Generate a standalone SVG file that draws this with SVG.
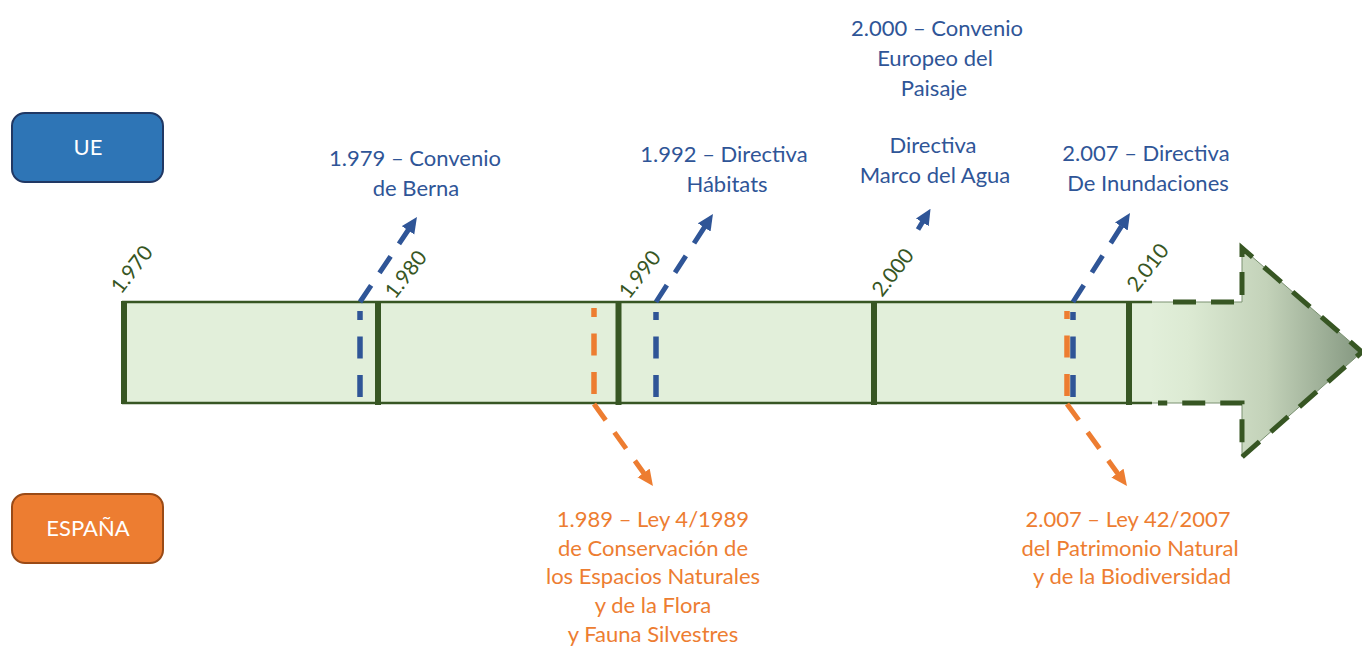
<svg xmlns="http://www.w3.org/2000/svg" width="1362" height="646" viewBox="0 0 1362 646">
  <style>
    .ev { font-family: Lato, "Liberation Sans", sans-serif; font-size: 22px; fill: #2F5597; text-anchor: middle; }
    .es { font-family: Lato, "Liberation Sans", sans-serif; font-size: 22px; fill: #ED7D31; text-anchor: middle; }
    .yr { font-family: Lato, "Liberation Sans", sans-serif; font-size: 21px; fill: #375623; }
    .lbl { font-family: Lato, "Liberation Sans", sans-serif; font-size: 22px; fill: #FFFFFF; text-anchor: middle; }
    .tick { stroke: #375623; stroke-width: 6; }
    .edge { stroke: #375623; stroke-width: 2.5; }
    .vb { stroke: #2F5597; stroke-width: 5.5; stroke-dasharray: 22 16.5; fill: none; }
    .vo { stroke: #ED7D31; stroke-width: 5.5; stroke-dasharray: 22 16.5; fill: none; }
    .db { stroke: #2F5597; stroke-width: 5; stroke-dasharray: 20 15; fill: none; marker-end: url(#ahB); }
    .do { stroke: #ED7D31; stroke-width: 5; stroke-dasharray: 20 15; fill: none; marker-end: url(#ahO); }
  </style>
  <defs>
    <linearGradient id="gArrow" gradientUnits="userSpaceOnUse" x1="1150" y1="0" x2="1362" y2="0">
      <stop offset="0" stop-color="#E2EFDA"/>
      <stop offset="0.18" stop-color="#DCEAD3"/>
      <stop offset="0.55" stop-color="#C3D2B9"/>
      <stop offset="1" stop-color="#849780"/>
    </linearGradient>
    <marker id="ahB" markerUnits="userSpaceOnUse" viewBox="0 -8 16 16" refX="1" refY="0" markerWidth="16" markerHeight="16" orient="auto">
      <path d="M0,-7.5 L16,0 L0,7.5 Z" fill="#2F5597"/>
    </marker>
    <marker id="ahO" markerUnits="userSpaceOnUse" viewBox="0 -8 16 16" refX="1" refY="0" markerWidth="16" markerHeight="16" orient="auto">
      <path d="M0,-7.5 L16,0 L0,7.5 Z" fill="#ED7D31"/>
    </marker>
  </defs>

  <rect width="1362" height="646" fill="#FFFFFF"/>

  <g id="timeline">
    <path d="M1140,302 H1242 V248 L1362,352 L1242,457 V403 H1140 Z" fill="url(#gArrow)"/>
    <path d="M1152,302 H1242 V248 L1362,352 L1242,457 V403 H1152" fill="none" stroke="#7A9170" stroke-width="1"/>
    <path d="M1158,302 H1242 V248 L1362,352 L1242,457 V403 H1158" fill="none" stroke="#375623" stroke-width="5" stroke-dasharray="23 15" stroke-dashoffset="23"/>
    <rect x="122" y="302" width="1030" height="101" fill="#E2EFDA"/>
    <line class="edge" x1="122" y1="302" x2="1152" y2="302"/>
    <line class="edge" x1="122" y1="403" x2="1152" y2="403"/>
    <line class="tick" x1="124" y1="301" x2="124" y2="404"/>
    <line class="tick" x1="378" y1="303" x2="378" y2="405"/>
    <line class="tick" x1="618.5" y1="303" x2="618.5" y2="405"/>
    <line class="tick" x1="874" y1="303" x2="874" y2="405"/>
    <line class="tick" x1="1129" y1="303" x2="1129" y2="405"/>
  </g>

  <g id="years">
    <text class="yr" transform="translate(121,295) rotate(-52)">1.970</text>
    <text class="yr" transform="translate(395,300) rotate(-52)">1.980</text>
    <text class="yr" transform="translate(629,300) rotate(-52)">1.990</text>
    <text class="yr" transform="translate(882,298) rotate(-52)">2.000</text>
    <text class="yr" transform="translate(1137,293) rotate(-52)">2.010</text>
  </g>

  <g id="node-ue">
    <rect x="12" y="113" width="151" height="69" rx="13" ry="13" fill="#2E75B6" stroke="#203864" stroke-width="2"/>
    <text class="lbl" x="88" y="155">UE</text>
  </g>
  <g id="node-espana">
    <rect x="12" y="494" width="151" height="69" rx="13" ry="13" fill="#ED7D31" stroke="#9A4A16" stroke-width="2"/>
    <text class="lbl" x="88" y="536">ESPAÑA</text>
  </g>

  <g id="connectors">
    <line class="vb" x1="360" y1="397" x2="360" y2="311"/>
    <line class="vo" x1="594" y1="394" x2="594" y2="308"/>
    <line class="vb" x1="656" y1="397" x2="656" y2="312"/>
    <line class="vo" x1="1067" y1="396" x2="1067" y2="311"/>
    <line class="vb" x1="1073" y1="397" x2="1073" y2="312"/>
    <line class="db" x1="360" y1="302" x2="408.6" y2="229.5"/>
    <line class="db" x1="656" y1="302" x2="704.8" y2="226.6"/>
    <line stroke="#2F5597" stroke-width="5" marker-end="url(#ahB)" x1="918" y1="229.5" x2="922.8" y2="221.5"/>
    <line class="db" x1="1073" y1="302" x2="1121.9" y2="225.6"/>
    <line class="do" x1="594" y1="404" x2="644.2" y2="473.8"/>
    <line class="do" x1="1067" y1="404" x2="1118.1" y2="473.9"/>
  </g>

  <g id="ev-1979">
    <text class="ev" x="415" y="166">1.979 – Convenio</text>
    <text class="ev" x="416" y="196">de Berna</text>
  </g>
  <g id="ev-1992">
    <text class="ev" x="724" y="162">1.992 – Directiva</text>
    <text class="ev" x="727" y="192">Hábitats</text>
  </g>
  <g id="ev-2000">
    <text class="ev" x="937" y="36">2.000 – Convenio</text>
    <text class="ev" x="935" y="66">Europeo del</text>
    <text class="ev" x="934" y="96">Paisaje</text>
    <text class="ev" x="933" y="153">Directiva</text>
    <text class="ev" x="935" y="183">Marco del Agua</text>
  </g>
  <g id="ev-2007">
    <text class="ev" x="1146" y="161">2.007 – Directiva</text>
    <text class="ev" x="1148" y="191">De Inundaciones</text>
  </g>
  <g id="es-1989">
    <text class="es" x="653" y="527">1.989 – Ley 4/1989</text>
    <text class="es" x="653" y="556">de Conservación de</text>
    <text class="es" x="653" y="584">los Espacios Naturales</text>
    <text class="es" x="653" y="613">y de la Flora</text>
    <text class="es" x="653" y="642">y Fauna Silvestres</text>
  </g>
  <g id="es-2007">
    <text class="es" x="1128" y="527">2.007 – Ley 42/2007</text>
    <text class="es" x="1130" y="556">del Patrimonio Natural</text>
    <text class="es" x="1132" y="584">y de la Biodiversidad</text>
  </g>
</svg>
